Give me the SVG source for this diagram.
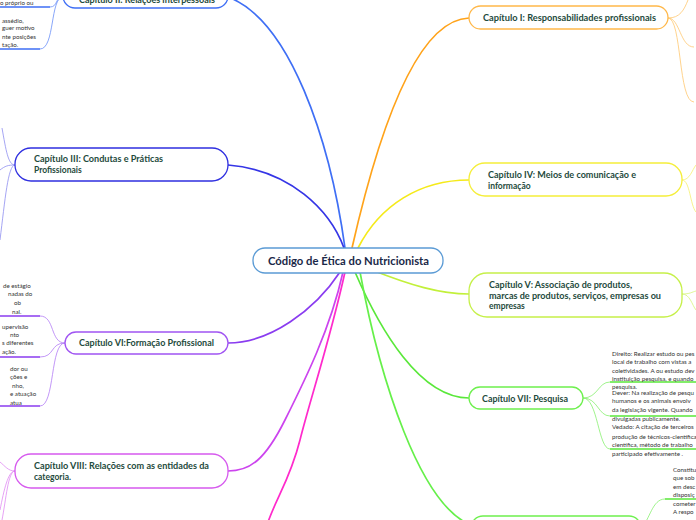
<svg xmlns="http://www.w3.org/2000/svg" width="696" height="520" viewBox="0 0 696 520">
<style>
.node{fill:#fff;stroke-width:1.3}
.t{font-family:Lato,"Noto Sans",sans-serif;font-weight:bold;font-size:8.5px;fill:#1e4a3c}
.c{font-family:Lato,"Noto Sans",sans-serif;font-weight:bold;font-size:10.5px;fill:#1a2848}
.s{font-family:Lato,"Noto Sans",sans-serif;font-size:6.2px;fill:#333}
.ln{fill:none;stroke-width:1.7;stroke-linecap:round}
.br{fill:none;stroke-width:0.8}
.ul{fill:none;stroke-width:1.5}
</style>
<rect width="696" height="520" fill="#fff"/>
<g id="connectors">
<path class="ln" stroke="#3f6ff5" d="M345,248 C330,140 290,20 228,-3"/>
<path class="ln" stroke="#ffa31a" d="M352,248 C372,160 410,20 469,18"/>
<path class="ln" stroke="#3535e6" d="M228,165 C290,170 330,210 344,248"/>
<path class="ln" stroke="#f5ea1a" d="M358,248 C380,205 420,180 469,180"/>
<path class="ln" stroke="#c2f03a" d="M372,270 C410,285 440,294 469,294"/>
<path class="ln" stroke="#5ae83a" d="M355,272 C380,330 420,398 469,398"/>
<path class="ln" stroke="#66f04a" d="M360,272 C380,380 420,505 471,525"/>
<path class="ln" stroke="#8a3cf0" d="M340,272 C315,310 270,343 228,343"/>
<path class="ln" stroke="#cc44ee" d="M343,272 C330,330 305,380 285,420 S250,471 228,471"/>
<path class="ln" stroke="#ff2acc" d="M345,272 C330,340 310,400 300,440 S275,500 267,525"/>
<g stroke="#6a8ff7">
<path class="br" d="M63,-3 C55,-3 58,7 50,7"/>
<path class="br" d="M63,-3 C50,-3 55,49 40,49"/>
</g>
<path class="ul" stroke="#3f6ff5" d="M50,7 L0,7 M40,49 L0,49"/>
<g stroke="#ffc870">
<path class="br" d="M668,18 C680,18 684,10 688,0"/>
<path class="br" d="M668,18 C680,18 680,47 694,47"/>
<path class="br" d="M668,18 C682,18 678,102 694,102"/>
</g>
<g stroke="#8e8ef0">
<path class="br" d="M15,165 C8,165 6,150 2,128"/>
<path class="br" d="M15,165 C8,165 5,166 0,170"/>
<path class="br" d="M15,165 C8,165 5,200 0,240"/>
</g>
<g stroke="#f5f070">
<path class="br" d="M682,180 C690,180 692,170 696,165"/>
<path class="br" d="M682,180 C690,180 690,205 696,212"/>
</g>
<g stroke="#d6f57a">
<path class="br" d="M682,294 C690,294 692,292 696,291"/>
<path class="br" d="M682,294 C690,294 692,305 696,310"/>
</g>
<g stroke="#88f070">
<path class="br" d="M583,398 C598,398 598,382 610,382"/>
<path class="br" d="M583,398 C598,398 598,416 610,416"/>
<path class="br" d="M583,398 C598,398 598,449 610,449"/>
<path class="br" d="M641,528 C650,520 652,499 665,499"/>
</g>
<path class="ul" stroke="#5ae83a" d="M610,382 L696,382 M610,416 L696,416 M610,449 L696,449 M665,499 L696,499"/>
<g stroke="#b27cf5">
<path class="br" d="M65,343 C50,343 55,316 40,316"/>
<path class="br" d="M65,343 C50,343 55,357 40,357"/>
<path class="br" d="M65,343 C50,343 55,406 40,406"/>
</g>
<path class="ul" stroke="#8a3cf0" d="M40,316 L0,316 M40,357 L0,357 M40,406 L0,406"/>
<g stroke="#e08af2">
<path class="br" d="M15,471 C8,471 5,466 0,462"/>
<path class="br" d="M15,471 C8,471 4,490 0,510"/>
<path class="br" d="M15,471 C8,471 6,500 2,520"/>
</g>
</g>
<g id="central">
<rect class="node" x="253" y="248" width="190" height="25" rx="12" stroke="#5b9bd5"/>
<text class="c" x="268" y="265" textLength="161" lengthAdjust="spacingAndGlyphs">Código de Ética do  Nutricionista</text>
</g>
<g id="cap2">
<rect class="node" x="63" y="-16" width="165" height="24" rx="12" stroke="#3f6ff5"/>
<text class="t" x="79" y="2.5" textLength="136" lengthAdjust="spacingAndGlyphs">Capítulo II: Relações interpessoais</text>
<text class="s" x="0" y="5">o próprio ou</text>
<text class="s" x="2" y="23">assédio,</text>
<text class="s" x="2" y="30">guer motivo</text>
<text class="s" x="2" y="39">nte posições</text>
<text class="s" x="2" y="47">tação.</text>
</g>
<g id="cap1">
<rect class="node" x="469" y="6" width="199" height="23" rx="11.5" stroke="#ffb84a"/>
<text class="t" x="483" y="21" textLength="173" lengthAdjust="spacingAndGlyphs">Capítulo I: Responsabilidades  profissionais</text>
</g>
<g id="cap3">
<rect class="node" x="15" y="148" width="213" height="33" rx="16" stroke="#2f2fe0"/>
<text class="t" x="34" y="162" textLength="129" lengthAdjust="spacingAndGlyphs">Capítulo III: Condutas e Práticas</text>
<text class="t" x="34" y="173">Profissionais</text>
</g>
<g id="cap4">
<rect class="node" x="469" y="163" width="213" height="33" rx="16" stroke="#f5ee3a"/>
<text class="t" x="488" y="178" textLength="148" lengthAdjust="spacingAndGlyphs">Capítulo IV: Meios de  comunicação e</text>
<text class="t" x="488" y="189">informação</text>
</g>
<g id="cap5">
<rect class="node" x="469" y="273" width="213" height="44" rx="18" stroke="#c6f04a"/>
<text class="t" x="489" y="288" textLength="143" lengthAdjust="spacingAndGlyphs">Capítulo V: Associação de  produtos,</text>
<text class="t" x="489" y="299" textLength="172" lengthAdjust="spacingAndGlyphs">marcas de produtos,  serviços, empresas ou</text>
<text class="t" x="489" y="309">empresas</text>
</g>
<g id="cap6">
<rect class="node" x="65" y="332" width="163" height="22" rx="11" stroke="#a054f2"/>
<text class="t" x="79" y="346" textLength="135" lengthAdjust="spacingAndGlyphs">Capítulo VI:Formação Profissional</text>
<text class="s" x="3" y="288">de estágio</text>
<text class="s" x="8" y="296">nadas  do</text>
<text class="s" x="14" y="305">ob</text>
<text class="s" x="12" y="314">nal.</text>
<text class="s" x="2" y="329">upervisão</text>
<text class="s" x="10" y="337">nto</text>
<text class="s" x="2" y="345">s  diferentes</text>
<text class="s" x="2" y="354">ação.</text>
<text class="s" x="10" y="371">dor ou</text>
<text class="s" x="10" y="379">ções e</text>
<text class="s" x="12" y="388">nho,</text>
<text class="s" x="10" y="396">e atuação</text>
<text class="s" x="10" y="405">atua</text>
</g>
<g id="cap7">
<rect class="node" x="469" y="387" width="114" height="22" rx="11" stroke="#6ef04e"/>
<text class="t" x="482" y="402" textLength="86" lengthAdjust="spacingAndGlyphs">Capítulo VII: Pesquisa</text>
<text class="s" x="612" y="356">Direito: Realizar estudo ou pes</text>
<text class="s" x="612" y="364">local de trabalho  com vistas a</text>
<text class="s" x="612" y="373">coletividades. A ou  estudo dev</text>
<text class="s" x="612" y="381">instituição pesquisa, e quando</text>
<text class="s" x="612" y="389">pesquisa.</text>
<text class="s" x="612" y="395">Dever: Na realização de pesqu</text>
<text class="s" x="612" y="403">humanos e os  animais envolv</text>
<text class="s" x="612" y="412">da legislação vigente. Quando</text>
<text class="s" x="612" y="421">divulgadas  publicamente.</text>
<text class="s" x="612" y="429">Vedado: A citação de terceiros</text>
<text class="s" x="612" y="439">produção de  técnicos-científica</text>
<text class="s" x="612" y="447">científica, método de  trabalho</text>
<text class="s" x="612" y="456">participado efetivamente .</text>
</g>
<g id="cap8">
<rect class="node" x="15" y="454" width="213" height="34" rx="16" stroke="#d65aee"/>
<text class="t" x="34" y="469" textLength="175" lengthAdjust="spacingAndGlyphs">Capítulo VIII: Relações com as  entidades da</text>
<text class="t" x="34" y="480">categoria.</text>
</g>
<g id="cap9">
<rect class="node" x="471" y="516" width="170" height="30" rx="12" stroke="#6ef04e"/>
<text class="s" x="673" y="472">Constitu</text>
<text class="s" x="673" y="480">que sob</text>
<text class="s" x="673" y="489">em desc</text>
<text class="s" x="673" y="497">disposiç</text>
<text class="s" x="673" y="506">cometer</text>
<text class="s" x="673" y="514">A respo</text>
</g>
</svg>
